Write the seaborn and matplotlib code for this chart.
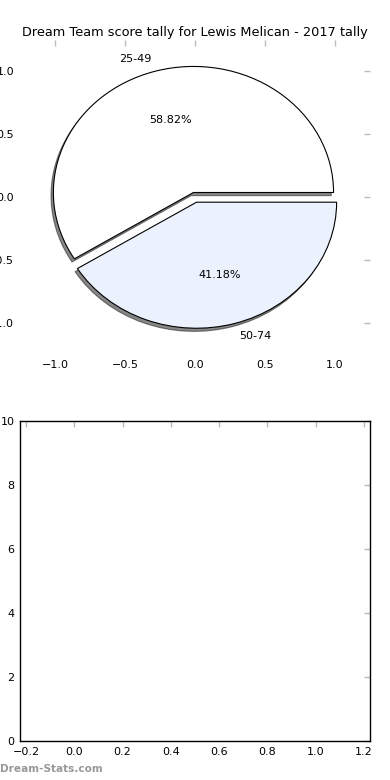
import matplotlib
matplotlib.use("Agg")
import matplotlib.pyplot as plt
import seaborn as sns

# Data
labels = ['25-49', '50-74']
counts = [10, 7]
colors = ['#ffffff', '#ebf1fd']
explode = [0.04, 0.04]

title = 'Dream Team score tally for Lewis Melican - 2017 tally'

sns.set_style('white')
plt.rcParams['font.family'] = ['DejaVu Sans']
plt.rcParams['text.color'] = 'black'

fig = plt.figure(figsize=(3.9, 7.8), dpi=100)
ax1 = fig.add_axes([0.051, 0.545, 0.898, 0.404])
ax2 = fig.add_axes([0.051, 0.05, 0.898, 0.41])

ax1.pie(counts, labels=labels, colors=colors, explode=explode, autopct='%1.2f%%',
        shadow={'ox': -0.012, 'oy': -0.018, 'color': '#111111', 'alpha': 0.5},
        startangle=0, counterclock=True,
        wedgeprops={'edgecolor': 'black', 'linewidth': 0.8},
        textprops={'fontsize': 8, 'color': 'black'})
ax1.set_aspect('auto')
ax1.set_xlim(-1.25, 1.25)
ax1.set_ylim(-1.25, 1.25)
ax1.set_xticks([-1.0, -0.5, 0.0, 0.5, 1.0])
ax1.set_yticks([-1.0, -0.5, 0.0, 0.5, 1.0])
ax1.set_title(title, fontsize=9.3, color='black', pad=3)

ax2.set_xlim(-0.225, 1.225)
ax2.set_ylim(0, 10)
ax2.set_xticks([-0.2, 0.0, 0.2, 0.4, 0.6, 0.8, 1.0, 1.2])
ax2.set_yticks([0, 2, 4, 6, 8, 10])
for sp in ax2.spines.values():
    sp.set_color('black')
    sp.set_linewidth(1.0)

for ax in (ax1, ax2):
    ax.tick_params(direction='in', length=4, width=1, color='#bbbbbb',
                   top=True, right=True, labelsize=8, labelcolor='black', pad=4)

fig.text(0.0, 0.008, 'Dream-Stats.com', fontsize=7.6, color='#999999',
         fontweight='bold', ha='left', va='bottom')

fig.savefig('out.png', dpi=100)
